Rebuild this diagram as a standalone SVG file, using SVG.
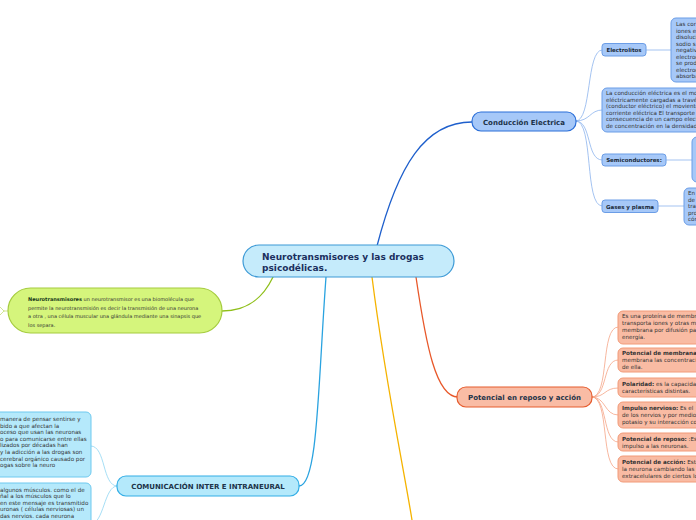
<svg xmlns="http://www.w3.org/2000/svg" width="696" height="520" viewBox="0 0 696 520">
<style>
text{font-family:"DejaVu Sans",Verdana,sans-serif}
.b{font-weight:bold}
.main{font-size:7px;font-weight:bold;fill:#1d3349}
.small{font-size:5.5px;font-weight:bold;fill:#1a2a3a}
.body{font-size:5.6px;fill:#333}
.lb{fill:#a6c8f8;stroke:#6b9de6;stroke-width:1}
.or{fill:#f9bba3;stroke:#f29a78;stroke-width:1}
.cy{fill:#b5e9fb;stroke:#6fc9ef;stroke-width:1}
.c{fill:none}
</style>
<rect width="696" height="520" fill="#ffffff"/>
<g id="connectors" class="c" stroke-linecap="round">
<path d="M377,246 C398,165 425,122 472,122" stroke="#1e5fcc" stroke-width="1.3"/>
<path d="M416,277 C426,345 436,397 458,397" stroke="#e8582a" stroke-width="1.3"/>
<path d="M372,277 C385,380 404,470 412,520" stroke="#f5b300" stroke-width="1.3"/>
<path d="M273,277 C262,300 246,311 222,311" stroke="#8fbf1a" stroke-width="1.3"/>
<path d="M326,277 C318,385 318,486 299,486" stroke="#2aa3e0" stroke-width="1.3"/>
<g stroke="#8db4ee" stroke-width="0.8">
<path d="M576,121 C592,121 586,50 602,50"/>
<path d="M576,121 C590,121 590,110 602,110"/>
<path d="M576,121 C592,121 586,160 602,160"/>
<path d="M576,121 C594,121 584,206 602,206"/>
<path d="M646,50 L671,50"/>
<path d="M666,160 L692,160"/>
<path d="M658,206 L684,206"/>
</g>
<g stroke="#f5a587" stroke-width="0.8">
<path d="M592,397 C610,397 600,327 618,327"/>
<path d="M592,397 C608,397 602,360 618,360"/>
<path d="M592,397 C606,397 604,388 618,388"/>
<path d="M592,397 C606,397 604,415 618,415"/>
<path d="M592,397 C608,397 602,442 618,442"/>
<path d="M592,397 C610,397 600,469 618,469"/>
</g>
<g stroke="#8fd5f2" stroke-width="0.8">
<path d="M117,486 C102,486 106,446 91,446"/>
<path d="M117,486 C104,486 104,524 91,524"/>
</g>
<path d="M8,311 L4,311 M4,311 L0,307 M4,311 L0,315" stroke="#c5e07a" stroke-width="0.8"/>
</g>
<g id="central">
<rect x="243" y="245" width="211" height="32" rx="16" fill="#c5ebfb" stroke="#3d9ad6" stroke-width="1.2"/>
<text x="262" y="260" font-size="9" class="b" fill="#1b2f5e">Neurotransmisores y las drogas</text>
<text x="262" y="271" font-size="9" class="b" fill="#1b2f5e">psicodélicas.</text>
</g>
<g id="conduccion">
<rect x="472" y="112" width="104" height="19" rx="9" fill="#a6c8f8" stroke="#2a6ed8" stroke-width="1.2"/>
<text x="524" y="124.5" text-anchor="middle" class="main">Conducción Electrica</text>
</g>
<g id="electrolitos">
<rect x="602" y="43.5" width="44" height="12.5" rx="3" class="lb"/>
<text x="624" y="52" text-anchor="middle" class="small">Electrolitos</text>
</g>
<g id="electrolitos-texto">
<rect x="671" y="18" width="40" height="64" rx="5" class="lb"/>
<g class="body"><text x="676" y="26">Las cor</text><text x="676" y="32.5">iones e</text><text x="676" y="39">disoluci</text><text x="676" y="45.5">sodio s</text><text x="676" y="52">negativ</text><text x="676" y="58.5">electroc</text><text x="676" y="65">se prod</text><text x="676" y="71.5">electroc</text><text x="676" y="78">absorba</text></g>
</g>
<g id="conduccion-texto">
<rect x="602" y="88" width="110" height="44" rx="5" class="lb"/>
<g class="body"><text x="606" y="95">La conducción eléctrica es el mo</text><text x="606" y="101.6">eléctricamente cargadas a travé</text><text x="606" y="108.2">(conductor eléctrico) el moviento</text><text x="606" y="114.8">corriente eléctrica El transporte</text><text x="606" y="121.4">consecuencia de un campo elect</text><text x="606" y="128">de concentración en la densidad</text></g>
</g>
<g id="semiconductores">
<rect x="602" y="154" width="64" height="12" rx="3" class="lb"/>
<text x="634" y="162" text-anchor="middle" class="small">Semiconductores:</text>
</g>
<g id="semiconductores-texto">
<rect x="692" y="137" width="20" height="45" rx="5" class="lb"/>
</g>
<g id="gases">
<rect x="602" y="200" width="56" height="12.5" rx="3" class="lb"/>
<text x="630" y="208.5" text-anchor="middle" class="small">Gases y plasma</text>
</g>
<g id="gases-texto">
<rect x="684" y="188" width="30" height="37" rx="5" class="lb"/>
<g class="body"><text x="688" y="195">En</text><text x="688" y="201.5">de</text><text x="688" y="208">tra</text><text x="688" y="214.5">pro</text><text x="688" y="221">cóm</text></g>
</g>
<g id="potencial">
<rect x="457" y="387" width="135" height="20" rx="9" fill="#f9bca5" stroke="#e65c2e" stroke-width="1.2"/>
<text x="524.5" y="399.5" text-anchor="middle" class="main">Potencial en reposo y acción</text>
</g>
<g id="proteina">
<rect x="618" y="311" width="90" height="33" rx="5" class="or"/>
<g class="body"><text x="622" y="318">Es una proteína de membr</text><text x="622" y="325">transporta iones y otras m</text><text x="622" y="332">membrana por difusión pa</text><text x="622" y="339">energía.</text></g>
</g>
<g id="membrana">
<rect x="618" y="348" width="90" height="24" rx="5" class="or"/>
<g class="body"><text x="622" y="355" class="b">Potencial de membrana</text><text x="622" y="362">membrana las concentracio</text><text x="622" y="369">de ella.</text></g>
</g>
<g id="polaridad">
<rect x="618" y="378" width="90" height="19" rx="5" class="or"/>
<g class="body"><text x="622" y="386"><tspan class="b">Polaridad:</tspan> es la capacidad</text><text x="622" y="393">características distintas.</text></g>
</g>
<g id="impulso">
<rect x="618" y="402" width="90" height="26" rx="5" class="or"/>
<g class="body"><text x="622" y="410"><tspan class="b">Impulso nervioso:</tspan> Es el</text><text x="622" y="417">de los nervios y por medio</text><text x="622" y="424">potasio y su interacción co</text></g>
</g>
<g id="reposo">
<rect x="618" y="433" width="90" height="18" rx="5" class="or"/>
<g class="body"><text x="622" y="440.5"><tspan class="b">Potencial de reposo:</tspan> :Es</text><text x="622" y="447.5">impulso a las neuronas.</text></g>
</g>
<g id="accion">
<rect x="618" y="456" width="90" height="26" rx="5" class="or"/>
<g class="body"><text x="622" y="463.5"><tspan class="b">Potencial de acción:</tspan> Esta</text><text x="622" y="470.5">la neurona cambiando las</text><text x="622" y="477.5">extracelulares de ciertos lo</text></g>
</g>
<g id="neurotransmisores">
<rect x="8" y="288" width="214" height="45" rx="22.5" fill="#d5f57c" stroke="#a5cc3f" stroke-width="1.2"/>
<g font-size="5.0" fill="#333"><text x="28" y="301"><tspan class="b" fill="#1a3a1a">Neurotransmisores</tspan> un neurotransmisor es una biomolécula que</text><text x="28" y="309.5">permite la neurotransmisión es decir la transmisión de una neurona</text><text x="28" y="318">a otra , una célula muscular una glándula mediante una sinapsis que</text><text x="28" y="326.5">los separa.</text></g>
</g>
<g id="comunicacion">
<rect x="117" y="476" width="182" height="20" rx="9" fill="#b4e9fb" stroke="#33aee6" stroke-width="1.2"/>
<text x="208" y="488.5" text-anchor="middle" class="main">COMUNICACIÓN INTER E INTRANEURAL</text>
</g>
<g id="drogas-texto">
<rect x="-20" y="412" width="111" height="65" rx="5" class="cy"/>
<g class="body"><text x="0" y="421">manera de pensar sentirse y</text><text x="0" y="427.6">bido a que afectan la</text><text x="0" y="434.2">oceso que usan las neuronas</text><text x="0" y="440.8">o para comunicarse entre ellas</text><text x="0" y="447.4">lizados por décadas han</text><text x="0" y="454">y la adicción a las drogas son</text><text x="0" y="460.6">cerebral orgánico causado por</text><text x="0" y="467.2">ogas sobre la neuro</text></g>
</g>
<g id="musculos-texto">
<rect x="-20" y="483" width="111" height="50" rx="5" class="cy"/>
<g class="body"><text x="0" y="491.5">algunos músculos. como el de</text><text x="0" y="498.1">ñal a los músculos que lo</text><text x="0" y="504.7">en este mensaje es transmitido</text><text x="0" y="511.3">uronas ( células nerviosas) un</text><text x="0" y="517.9">das nervios. cada neurona</text></g>
</g>
</svg>
